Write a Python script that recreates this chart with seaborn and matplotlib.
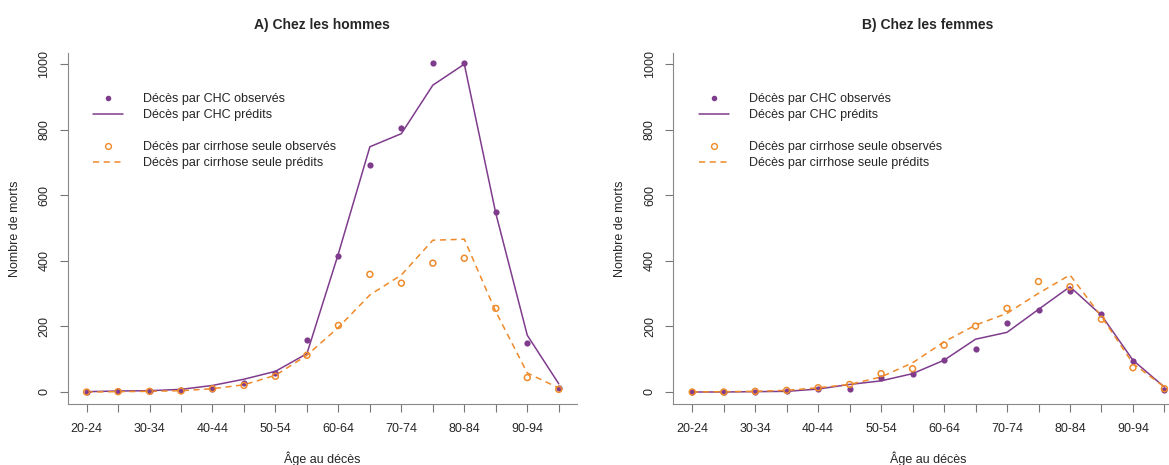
"""
Deaths by age group: observed vs predicted, men and women.
"""

import pandas as pd
import numpy as np
import matplotlib
matplotlib.use("Agg")
import matplotlib.pyplot as plt
from matplotlib.lines import Line2D
import seaborn as sns

# Data
age_groups = ['20-24', '25-29', '30-34', '35-39', '40-44', '45-49', '50-54', '55-59',
              '60-64', '65-69', '70-74', '75-79', '80-84', '85-89', '90-94', '95-99']

men_chc_obs = [0, 2, 3, 5, 10, 27, 58, 158, 415, 692, 804, 1003, 1003, 549, 148, 13]
men_chc_pred = [1, 3, 4, 8, 20, 39, 63, 117, 422, 748, 788, 936, 1000, 545, 173, 25]
men_cir_obs = [0, 1, 2, 3, 10, 20, 48, 112, 203, 359, 332, 393, 408, 255, 44, 8]
men_cir_pred = [0, 1, 2, 4, 10, 22, 51, 112, 197, 296, 357, 463, 466, 245, 58, 12]

women_chc_obs = [0, 0, 1, 3, 8, 10, 43, 56, 99, 131, 209, 250, 309, 237, 94, 7]
women_chc_pred = [0, 0, 1, 2, 9, 23, 34, 56, 97, 161, 182, 252, 321, 234, 97, 15]
women_cir_obs = [0, 0, 2, 5, 13, 23, 56, 71, 143, 201, 255, 337, 321, 222, 74, 10]
women_cir_pred = [0, 1, 2, 5, 13, 23, 46, 89, 153, 204, 240, 301, 357, 230, 87, 15]

PURPLE = "#7F3C8D"
ORANGE = "#EE8A2A"

sns.set_style("white")
plt.rcParams['font.family'] = ['Liberation Sans', 'DejaVu Sans']


def build_df(chc_obs, chc_pred, cir_obs, cir_pred):
    rows = []
    for i, age in enumerate(age_groups):
        rows.append({'idx': i, 'age': age, 'cause': 'CHC', 'obs': chc_obs[i], 'pred': chc_pred[i]})
        rows.append({'idx': i, 'age': age, 'cause': 'cirrhose', 'obs': cir_obs[i], 'pred': cir_pred[i]})
    return pd.DataFrame(rows)


def draw_panel(ax, df, title):
    sns.lineplot(data=df, x='idx', y='pred', hue='cause', style='cause',
                 palette={'CHC': PURPLE, 'cirrhose': ORANGE},
                 dashes={'CHC': '', 'cirrhose': (4, 3)},
                 linewidth=1.1, legend=False, ax=ax)
    sns.scatterplot(data=df[df['cause'] == 'CHC'], x='idx', y='obs', color=PURPLE,
                    s=20, linewidth=0, legend=False, ax=ax, zorder=3)
    sns.scatterplot(data=df[df['cause'] == 'cirrhose'], x='idx', y='obs',
                    facecolor='none', edgecolor=ORANGE, s=18, linewidth=1.1,
                    legend=False, ax=ax, zorder=4)

    ax.set_xlim(-0.6, 15.58)
    ax.set_ylim(-36.6, 1034)
    ax.set_xticks(range(len(age_groups)))
    ax.set_xticklabels([a if i % 2 == 0 else '' for i, a in enumerate(age_groups)], fontsize=9)
    ax.set_yticks([0, 200, 400, 600, 800, 1000])
    ax.set_yticklabels(['0', '200', '400', '600', '800', '1000'], fontsize=9,
                       rotation=90, va='center')
    ax.tick_params(axis='both', bottom=True, left=True, length=6, width=0.8,
                   color='#777777')
    ax.tick_params(axis='x', pad=8)
    ax.tick_params(axis='y', pad=6.5)
    for side in ['top', 'right']:
        ax.spines[side].set_visible(False)
    for side in ['left', 'bottom']:
        ax.spines[side].set_color('#888888')
        ax.spines[side].set_linewidth(0.8)

    ax.set_xlabel('Âge au décès', fontsize=9)
    ax.set_ylabel('Nombre de morts', fontsize=9)
    ax.xaxis.set_label_coords(0.5, -0.135)
    ax.yaxis.set_label_coords(-0.092, 0.5)
    ax.set_title(title, fontsize=10, fontweight='bold', pad=17)

    handles = [
        Line2D([], [], color=PURPLE, marker='o', linestyle='none', markersize=4, markeredgewidth=0),
        Line2D([], [], color=PURPLE, linewidth=1.1),
        Line2D([], [], color='none', linestyle='none'),
        Line2D([], [], color=ORANGE, marker='o', markerfacecolor='none', linestyle='none',
               markersize=4.2, markeredgewidth=1.0),
        Line2D([], [], color=ORANGE, linewidth=1.1, linestyle=(0, (4, 3))),
    ]
    labels = ['Décès par CHC observés', 'Décès par CHC prédits', ' ',
              'Décès par cirrhose seule observés', 'Décès par cirrhose seule prédits']
    ax.legend(handles, labels, loc='upper left', bbox_to_anchor=(0.05, 0.885),
              frameon=False, fontsize=9, handlelength=2.4, handletextpad=1.6,
              labelspacing=0.32, borderpad=0, borderaxespad=0)


fig = plt.figure(figsize=(11.69, 4.65), dpi=100)
ax_m = fig.add_axes([0.0579, 0.1312, 0.4357, 0.7548])
ax_f = fig.add_axes([0.576, 0.1312, 0.4357, 0.7548])

draw_panel(ax_m, build_df(men_chc_obs, men_chc_pred, men_cir_obs, men_cir_pred),
           'A) Chez les hommes')
draw_panel(ax_f, build_df(women_chc_obs, women_chc_pred, women_cir_obs, women_cir_pred),
           'B) Chez les femmes')

fig.savefig('out.png', dpi=100)
